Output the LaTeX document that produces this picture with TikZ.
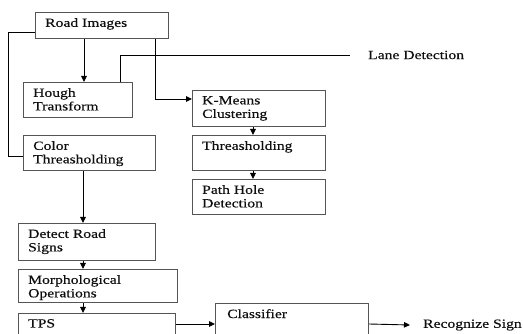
\documentclass[tikz,border=0pt]{standalone}
\usepackage{fontspec}
\setmainfont[FakeStretch=1.25,FakeBold=0.4]{Liberation Serif}
\usetikzlibrary{arrows.meta}
\definecolor{boxgray}{RGB}{85,85,85}
\definecolor{txt}{RGB}{15,15,15}
\begin{document}
\begin{tikzpicture}[x=1pt,y=-1pt,
  box/.style={draw=boxgray, line width=1.1pt, anchor=north west, inner sep=0pt},
  lbl/.style={anchor=north west, inner sep=0pt, align=left, xshift=10pt, yshift=-6pt,
    text=txt, font=\fontsize{12.5}{13.5}\selectfont},
  plain/.style={inner sep=0pt, text=txt, font=\fontsize{12.5}{13.5}\selectfont},
  conn/.style={draw=black, line width=0.9pt},
  arr/.style={conn, -{Triangle[length=6pt,width=5.5pt]}}]
\useasboundingbox (0,0) rectangle (523,334);
\clip (0,0) rectangle (523,334);
% boxes
\node[box, minimum width=133pt, minimum height=26pt, label={[lbl]north west:Road Images}] (road) at (35,12) {};
\node[box, minimum width=109pt, minimum height=35pt, label={[lbl]north west:Hough\\Transform}] (hough) at (23,82) {};
\node[box, minimum width=133pt, minimum height=36pt, label={[lbl]north west:K-Means\\Clustering}] (kmeans) at (192,90) {};
\node[box, minimum width=133pt, minimum height=35pt, label={[lbl]north west:Threasholding}] (thresh) at (192,135) {};
\node[box, minimum width=133pt, minimum height=35pt, label={[lbl]north west:Path Hole\\Detection}] (path) at (192,179) {};
\node[box, minimum width=132pt, minimum height=35pt, label={[lbl]north west:Color\\Threasholding}] (color) at (23,135) {};
\node[box, minimum width=137pt, minimum height=37pt, label={[lbl]north west:Detect Road\\Signs}] (detect) at (18,223) {};
\node[box, minimum width=159pt, minimum height=33pt, label={[lbl]north west:Morphological\\Operations}] (morph) at (18,269) {};
\node[box, minimum width=157pt, minimum height=30pt, label={[lbl]north west:TPS}] (tps) at (18,313) {};
\node[box, minimum width=153pt, minimum height=40pt, label={[lbl, xshift=2pt]north west:Classifier}] (classifier) at (215,303) {};
% free texts
\node[plain, anchor=west] (lane) at (368,55) {Lane Detection};
\node[plain, anchor=west] (rec) at (423,325) {Recognize Sign};
% connectors
\draw[conn] ([yshift=7pt]road.south west) -- ++(-27,0) |- ([yshift=15pt]color.south west);
\draw[arr] ([xshift=49pt]road.south west) coordinate (a1) -- (a1 |- hough.north);
\draw[arr] ([xshift=120pt]road.south west) |- ([yshift=-9pt]kmeans.north west);
\draw[conn] ([xshift=-13pt]hough.north east) |- ([xshift=-18pt]lane.west);
\draw[arr] ([xshift=61pt]kmeans.south west) coordinate (a2) -- (a2 |- thresh.north);
\draw[arr] ([xshift=61pt]thresh.south west) coordinate (a3) -- (a3 |- path.north);
\draw[arr] ([xshift=60pt]color.south west) coordinate (a4) -- (a4 |- detect.north);
\draw[arr] ([xshift=65pt]detect.south west) coordinate (a5) -- (a5 |- morph.north);
\draw[arr] ([xshift=65pt]morph.south west) coordinate (a6) -- (a6 |- tps.north);
\draw[arr] ([yshift=-11pt]tps.north east) coordinate (a7) -- (a7 -| classifier.west);
\draw[arr] ([yshift=-21pt]classifier.north east) -- ([xshift=-13pt]rec.west);
\end{tikzpicture}
\end{document}
